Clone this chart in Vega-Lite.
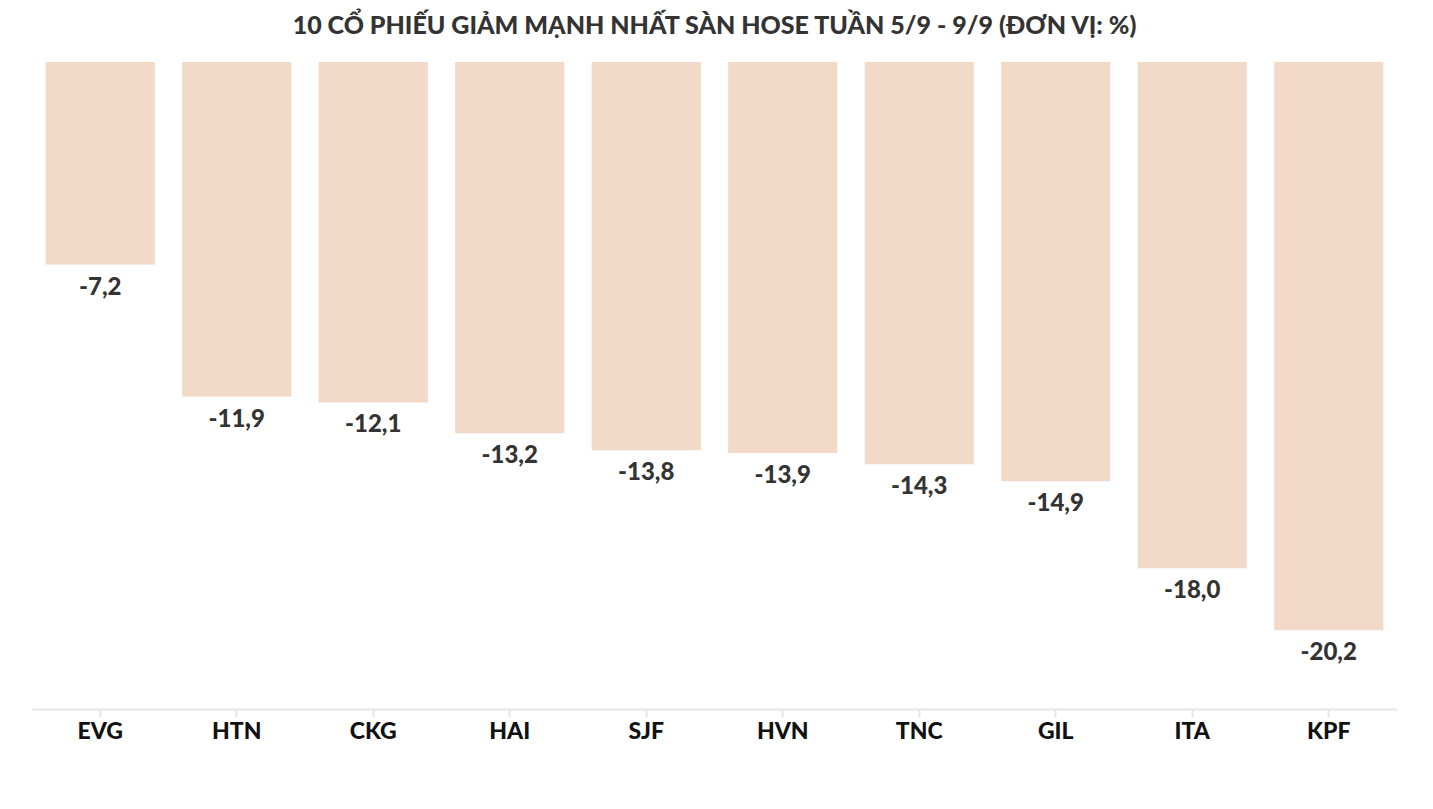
{
  "$schema": "https://vega.github.io/schema/vega-lite/v6.json",
  "autosize": "none",
  "width": 1365,
  "height": 647,
  "padding": {"left": 32, "top": 62, "right": 36, "bottom": 100},
  "background": "white",
  "config": {
    "view": {"stroke": null},
    "locale": {"number": {"decimal": ",", "thousands": ".", "grouping": [3], "currency": ["", ""], "minus": "-"}}
  },
  "title": {
    "text": "10 CỔ PHIẾU GIẢM MẠNH NHẤT SÀN HOSE TUẦN 5/9 - 9/9 (ĐƠN VỊ: %)",
    "font": "Lato",
    "fontSize": 25,
    "fontWeight": 900,
    "color": "#333333",
    "anchor": "middle",
    "offset": 23
  },
  "data": {
    "values": [
      {"ma": "EVG", "v": -7.2},
      {"ma": "HTN", "v": -11.9},
      {"ma": "CKG", "v": -12.1},
      {"ma": "HAI", "v": -13.2},
      {"ma": "SJF", "v": -13.8},
      {"ma": "HVN", "v": -13.9},
      {"ma": "TNC", "v": -14.3},
      {"ma": "GIL", "v": -14.9},
      {"ma": "ITA", "v": -18.0},
      {"ma": "KPF", "v": -20.2}
    ]
  },
  "encoding": {
    "x": {
      "field": "ma",
      "type": "nominal",
      "sort": null,
      "scale": {"paddingInner": 0.2, "paddingOuter": 0.1},
      "axis": {
        "title": null,
        "labelAngle": 0,
        "labelFont": "Lato",
        "labelFontSize": 23,
        "labelFontWeight": 900,
        "labelColor": "#111111",
        "labelPadding": 3,
        "domainColor": "#e6e6e6",
        "domainWidth": 2,
        "tickColor": "#e6e6e6",
        "tickWidth": 2,
        "tickSize": 8
      }
    },
    "y": {
      "field": "v",
      "type": "quantitative",
      "scale": {"domain": [-23, 0], "nice": false},
      "axis": null
    }
  },
  "layer": [
    {"mark": {"type": "bar", "color": "#f3dac8"}},
    {
      "mark": {"type": "text", "baseline": "top", "dy": 11, "font": "Lato", "fontSize": 24, "fontWeight": 900, "color": "#333333"},
      "encoding": {"text": {"field": "v", "type": "quantitative", "format": ".1f"}}
    }
  ]
}
